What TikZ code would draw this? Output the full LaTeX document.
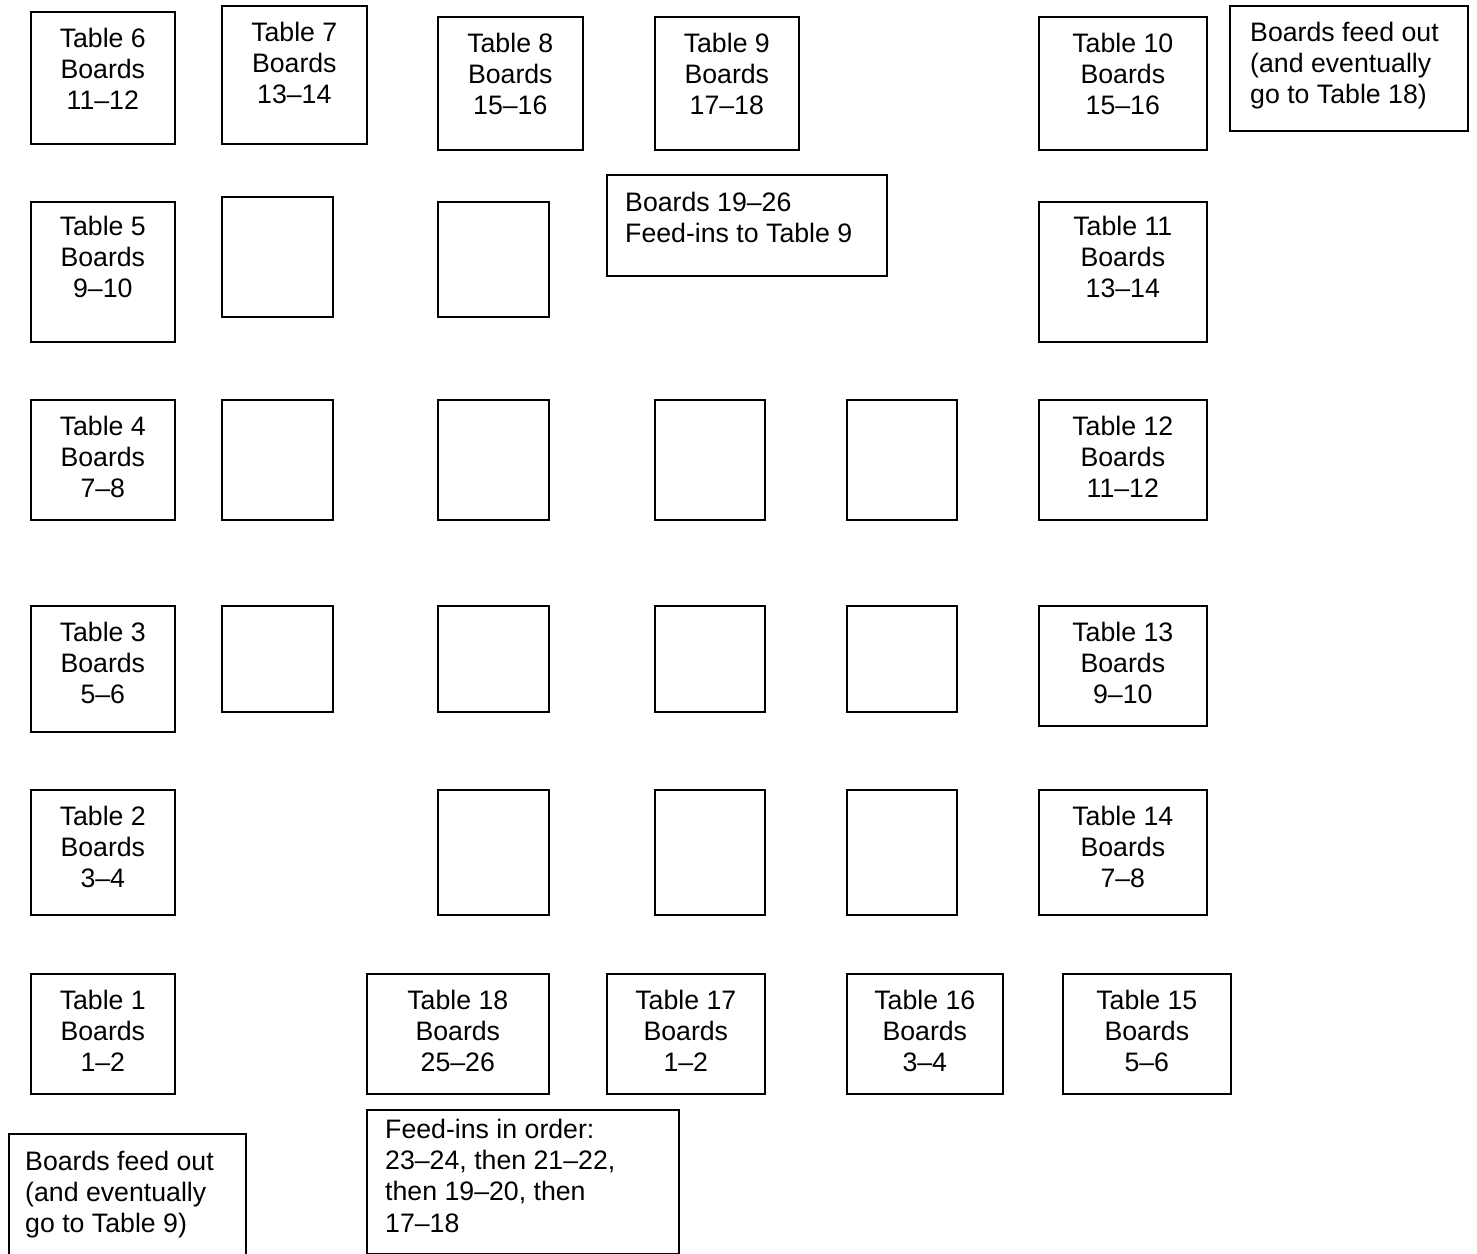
\documentclass[tikz,border=0pt]{standalone}
\usepackage{fontspec}
\setmainfont{Liberation Sans}
\newcommand\tabfont{\fontsize{26.7}{31.2}\selectfont}
\begin{document}
\begin{tikzpicture}[x=1pt,y=-1pt,
  box/.style={draw=black, line width=1.6pt, inner sep=0pt, anchor=north west, fill=white},
  lbl/.style={anchor=north, align=center, inner sep=0pt, font=\tabfont},
  note/.style={anchor=north west, align=left, inner sep=0pt, font=\tabfont}]
\useasboundingbox (0,0) rectangle (1477,1253);
\clip (0,0) rectangle (1477,1253);
% helper: name, left, top, right, bottom
\newcommand\bx[5]{\node[box, minimum width={(#4-#2)*1pt}, minimum height={(#5-#3)*1pt}] (#1) at (#2,#3) {};}
\newcommand\tb[5]{\bx{#1}{#2}{#3}{#4}{#5}}
% ---- Row 1
\tb{t6}{30}{11}{174}{143}
\tb{t7}{221}{5}{366}{143}
\tb{t8}{437}{16}{582}{149}
\tb{t9}{654}{16}{798}{149}
\tb{t10}{1038}{16}{1206}{149}
\bx{notetop}{1229}{5}{1467}{130}
% ---- Row 2
\tb{t5}{30}{201}{174}{341}
\bx{e21}{221}{196}{332}{316}
\bx{e22}{437}{201}{548}{316}
\bx{note19}{606}{174}{886}{275}
\tb{t11}{1038}{201}{1206}{341}
% ---- Row 3
\tb{t4}{30}{399}{174}{519}
\bx{e31}{221}{399}{332}{519}
\bx{e32}{437}{399}{548}{519}
\bx{e33}{654}{399}{764}{519}
\bx{e34}{846}{399}{956}{519}
\tb{t12}{1038}{399}{1206}{519}
% ---- Row 4
\tb{t3}{30}{605}{174}{731}
\bx{e41}{221}{605}{332}{711}
\bx{e42}{437}{605}{548}{711}
\bx{e43}{654}{605}{764}{711}
\bx{e44}{846}{605}{956}{711}
\tb{t13}{1038}{605}{1206}{725}
% ---- Row 5
\tb{t2}{30}{789}{174}{914}
\bx{e52}{437}{789}{548}{914}
\bx{e53}{654}{789}{764}{914}
\bx{e54}{846}{789}{956}{914}
\tb{t14}{1038}{789}{1206}{914}
% ---- Row 6
\tb{t1}{30}{973}{174}{1093}
\tb{t18}{366}{973}{548}{1093}
\tb{t17}{606}{973}{764}{1093}
\tb{t16}{846}{973}{1002}{1093}
\tb{t15}{1062}{973}{1230}{1093}
% ---- Bottom notes
\bx{noteleft}{8}{1133}{245}{1275}
\bx{noteright}{366}{1109}{678}{1253}
% ---- Texts
\node[lbl] (t6t) at ([yshift=-16.5pt]t6.north) {Table 6\\Boards\\11–12};
\node[lbl] (t7t) at ([yshift=-16.5pt]t7.north) {Table 7\\Boards\\13–14};
\node[lbl] (t8t) at ([yshift=-16.5pt]t8.north) {Table 8\\Boards\\15–16};
\node[lbl] (t9t) at ([yshift=-16.5pt]t9.north) {Table 9\\Boards\\17–18};
\node[lbl] (t10t) at ([yshift=-16.5pt]t10.north) {Table 10\\Boards\\15–16};
\node[lbl] (t5t) at ([yshift=-15pt]t5.north) {Table 5\\Boards\\9–10};
\node[lbl] (t11t) at ([yshift=-15pt]t11.north) {Table 11\\Boards\\13–14};
\node[lbl] (t4t) at ([yshift=-16.5pt]t4.north) {Table 4\\Boards\\7–8};
\node[lbl] (t12t) at ([yshift=-16.5pt]t12.north) {Table 12\\Boards\\11–12};
\node[lbl] (t3t) at ([yshift=-17pt]t3.north) {Table 3\\Boards\\5–6};
\node[lbl] (t13t) at ([yshift=-17pt]t13.north) {Table 13\\Boards\\9–10};
\node[lbl] (t2t) at ([yshift=-16.5pt]t2.north) {Table 2\\Boards\\3–4};
\node[lbl] (t14t) at ([yshift=-16.5pt]t14.north) {Table 14\\Boards\\7–8};
\node[lbl] (t1t) at ([yshift=-17pt]t1.north) {Table 1\\Boards\\1–2};
\node[lbl] (t18t) at ([yshift=-17pt]t18.north) {Table 18\\Boards\\25–26};
\node[lbl] (t17t) at ([yshift=-17pt]t17.north) {Table 17\\Boards\\1–2};
\node[lbl] (t16t) at ([yshift=-17pt]t16.north) {Table 16\\Boards\\3–4};
\node[lbl] (t15t) at ([yshift=-17pt]t15.north) {Table 15\\Boards\\5–6};
\node[note] (notetopt) at ([xshift=21pt,yshift=-17pt]notetop.north west) {Boards feed out\\(and eventually\\go to Table 18)};
\node[note] (note19t) at ([xshift=19pt,yshift=-18pt]note19.north west) {Boards 19–26\\Feed-ins to Table 9};
\node[note] (notelt) at ([xshift=17pt,yshift=-18pt]noteleft.north west) {Boards feed out\\(and eventually\\go to Table 9)};
\node[note] (notert) at ([xshift=19pt,yshift=-10pt]noteright.north west) {Feed-ins in order:\\23–24, then 21–22,\\then 19–20, then\\17–18};
\end{tikzpicture}
\end{document}
